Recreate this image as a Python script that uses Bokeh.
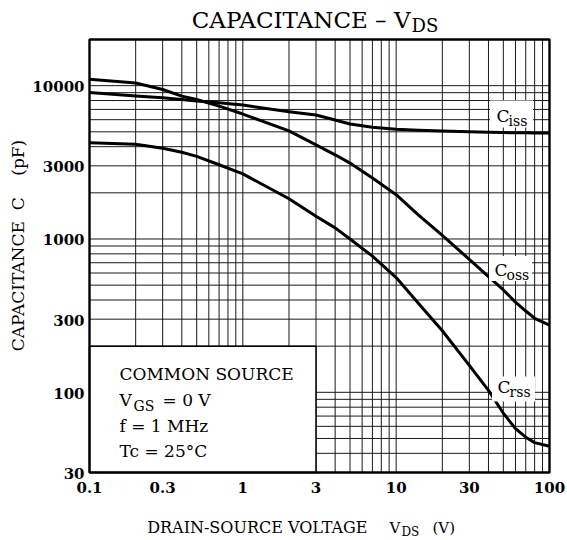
import math
from bokeh.plotting import figure
from bokeh.models import Label, Range1d
from bokeh.core.properties import value
from bokeh.embed import file_html
from bokeh.resources import INLINE

# ---- data ----
vds  = [0.1, 0.2, 0.3, 0.4, 0.5, 0.7, 1, 2, 3, 4, 5, 7, 10, 14, 20, 30, 40, 50, 60, 70, 80, 100]
ciss = [9030, 8550, 8330, 8130, 7950, 7730, 7470, 6760, 6430, 5970, 5620, 5350, 5190, 5120,
        5070, 5000, 4960, 4940, 4930, 4930, 4920, 4920]
coss = [11020, 10420, 9440, 8550, 8130, 7360, 6530, 5070, 4110, 3540, 3125, 2500, 1945, 1430,
        1055, 736, 568, 465, 387, 339, 304, 274]
crss = [4250, 4150, 3910, 3680, 3460, 3050, 2660, 1830, 1407, 1182, 1000, 773, 560, 380,
        252, 150, 103, 73, 58, 51, 47, 44.5]

x_ticks = [0.1, 0.3, 1, 3, 10, 30, 100]
x_tick_labels = ["0.1", "0.3", "1", "3", "10", "30", "100"]
y_ticks = [30, 100, 300, 1000, 3000, 10000]
y_tick_labels = ["30", "100", "300", "1000", "3000", "10000"]

X_RANGE = (0.1, 100)
Y_RANGE = (30, 20000)
BOX = dict(left=0.1, right=3, bottom=30, top=200)

x_grid = [m * 10.0 ** e for e in (-1, 0, 1) for m in range(1, 10)] + [100]
y_grid = [m * 10.0 ** e for e in (1, 2, 3, 4) for m in range(1, 10)]
y_grid = [v for v in y_grid if Y_RANGE[0] <= v <= Y_RANGE[1]] + [Y_RANGE[1]]

W, H = 567, 540
PL, PR, PT, PB = 89, 549, 39, 472   # plot-area edges in canvas pixels
SERIF = "DejaVu Serif"

xdec = (PR - PL) / math.log10(X_RANGE[1] / X_RANGE[0])
ydec = (PB - PT) / math.log10(Y_RANGE[1] / Y_RANGE[0])
xr = Range1d(X_RANGE[0] * 10 ** (-PL / xdec), X_RANGE[1] * 10 ** ((W - PR) / xdec))
yr = Range1d(Y_RANGE[0] * 10 ** (-(H - PB) / ydec), Y_RANGE[1] * 10 ** (PT / ydec))


def px2x(px):
    return X_RANGE[0] * 10 ** ((px - PL) / xdec)


def px2y(py):
    return Y_RANGE[0] * 10 ** ((PB - py) / ydec)


p = figure(width=W, height=H, x_axis_type="log", y_axis_type="log",
           x_range=xr, y_range=yr, x_axis_location=None, y_axis_location=None,
           output_backend="svg", toolbar_location=None, title=None,
           min_border=0, background_fill_color="white", border_fill_color="white")
p.outline_line_color = None
p.grid.visible = False

# grid (log minor grid)
p.segment(x0=x_grid, y0=[Y_RANGE[0]] * len(x_grid), x1=x_grid, y1=[Y_RANGE[1]] * len(x_grid),
          line_color="#1a1a1a", line_width=1)
p.segment(x0=[X_RANGE[0]] * len(y_grid), y0=y_grid, x1=[X_RANGE[1]] * len(y_grid), y1=y_grid,
          line_color="#1a1a1a", line_width=1)

# conditions box
p.quad(left=[BOX["left"]], right=[BOX["right"]], bottom=[BOX["bottom"]], top=[BOX["top"]],
       fill_color="white", line_color="black", line_width=1.5)

for ys in (ciss, coss, crss):
    p.line(vds, ys, line_color="black", line_width=3, line_join="round")

# white patches behind curve names
patches = [(511, 113.5, 43, 27), (510, 268, 43, 25), (513, 388.5, 43, 25)]
p.rect(x=[px2x(a[0]) for a in patches], y=[px2y(a[1]) for a in patches],
       width=[a[2] for a in patches], height=[a[3] for a in patches],
       width_units="screen", height_units="screen", fill_color="white", line_color=None)

# plot frame
p.quad(left=[X_RANGE[0]], right=[X_RANGE[1]], bottom=[Y_RANGE[0]], top=[Y_RANGE[1]],
       fill_color=None, line_color="black", line_width=2.4)

# tick labels
p.text(x=x_ticks, y=[Y_RANGE[0]] * len(x_ticks), text=x_tick_labels, y_offset=15,
       text_align="center", text_baseline="middle", text_font=value(SERIF),
       text_font_style="bold", text_font_size="15px", text_color="black")
p.text(x=[X_RANGE[0]] * len(y_ticks), y=y_ticks, text=y_tick_labels, x_offset=-5, y_offset=1,
       text_align="right", text_baseline="middle", text_font=value(SERIF),
       text_font_style="bold", text_font_size="15px", text_color="black")


def lab(text, ox, base, size, align="left", **kw):
    """ox: left/right x; base: text baseline y (canvas px, top-down)."""
    mid = base - 0.365 * size
    p.add_layout(Label(x=ox, y=H - mid, x_units="screen", y_units="screen",
                       text=text, text_font=SERIF, text_font_size=f"{size}px",
                       text_align=align, text_baseline="middle", text_color="black", **kw))


# title
lab("CAPACITANCE \u2013 V", 410, 28, 23, align="right")
lab("DS", 411, 32, 18)

# x axis title
lab("DRAIN-SOURCE VOLTAGE", 367, 533, 16, align="right")
lab("V", 389, 533, 15)
lab("DS", 401, 536, 12)
lab("(V)", 432, 533, 15)

# y axis title
p.add_layout(Label(x=17, y=H - 245, x_units="screen", y_units="screen",
                   text="CAPACITANCE\u00a0\u00a0C\u00a0\u00a0\u00a0\u00a0(pF)", text_font=SERIF,
                   text_font_size="17px", text_align="center", text_baseline="middle",
                   angle=math.pi / 2, text_color="black"))

# conditions text
lab("COMMON SOURCE", 119, 380, 17)
lab("V", 119, 406, 17)
lab("GS", 133, 411, 14)
lab("= 0 V", 162, 406, 17)
lab("f = 1 MHz", 119, 432, 17)
lab("Tc = 25\u00b0C", 119, 457, 17)

# curve names
for sub, ox, base in (("iss", 496, 122), ("oss", 494, 276), ("rss", 497, 393)):
    lab("C", ox, base, 17)
    lab(sub, ox + 12, base + 4, 14)

open("out.html", "w").write(file_html(p, INLINE))
